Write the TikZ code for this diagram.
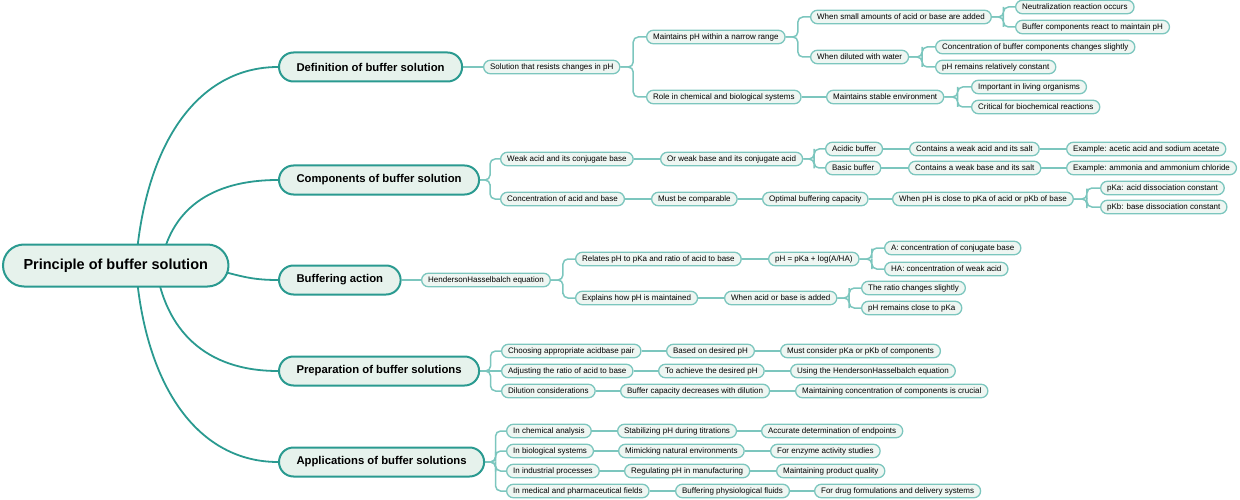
\documentclass[tikz,border=0pt]{standalone}
\usepackage{fontspec}
\setmainfont{Liberation Sans}
\usetikzlibrary{calc,backgrounds}

\definecolor{tealdark}{HTML}{2A9A90}
\definecolor{teallight}{HTML}{7CC6BE}
\definecolor{mint}{HTML}{E6F2EC}
\definecolor{mintpale}{HTML}{EEF6F2}

\tikzset{
  rootnode/.style={draw=tealdark, line width=2pt, fill=mint, rounded corners=21pt, minimum height=42pt, inner xsep=20.5pt, anchor=west, font=\fontsize{14.5}{16}\selectfont\bfseries},
  topicnode/.style={draw=tealdark, line width=2pt, fill=mint, rounded corners=14.5pt, minimum height=29pt, inner xsep=17.5pt, anchor=west, font=\fontsize{11.3}{13}\selectfont\bfseries},
  leafnode/.style={draw=teallight, line width=1.3pt, fill=mintpale, rounded corners=6.75pt, minimum height=13.5pt, inner xsep=6.5pt, inner ysep=1pt, anchor=west, font=\fontsize{8}{9}\selectfont},
  mainline/.style={draw=tealdark, line width=1.8pt},
  subline/.style={draw=teallight, line width=1.5pt, rounded corners=5pt},
}

\begin{document}
\begin{tikzpicture}[x=1pt, y=-1pt]
\useasboundingbox (0,0) rectangle (1240,500);

% Root and main topics
\node[rootnode] (root) at (2,265.5) {Principle of buffer solution};
\node[topicnode] (def) at (278,67) {Definition of buffer solution};
\node[topicnode] (comp) at (278,180) {Components of buffer solution};
\node[topicnode] (buff) at (278,280) {Buffering action};
\node[topicnode] (prep) at (278,371) {Preparation of buffer solutions};
\node[topicnode] (app) at (278,462) {Applications of buffer solutions};

% Definition
\node[leafnode] (d1) at (483,67) {Solution that resists changes in pH};
\node[leafnode] (d11) at (646,37) {Maintains pH within a narrow range};
\node[leafnode] (d12) at (646,97) {Role in chemical and biological systems};
\node[leafnode] (d111) at (810,17) {When small amounts of acid or base are added};
\node[leafnode] (d112) at (810,57) {When diluted with water};
\node[leafnode] (d121) at (826,97) {Maintains stable environment};
\node[leafnode] (d1111) at (1015,7) {Neutralization reaction occurs};
\node[leafnode] (d1112) at (1015,27) {Buffer components react to maintain pH};
\node[leafnode] (d1121) at (935,47) {Concentration of buffer components changes slightly};
\node[leafnode] (d1122) at (935,67) {pH remains relatively constant};
\node[leafnode] (d1211) at (971,87) {Important in living organisms};
\node[leafnode] (d1212) at (971,107) {Critical for biochemical reactions};

% Components
\node[leafnode] (c1) at (500,159) {Weak acid and its conjugate base};
\node[leafnode] (c2) at (500,199) {Concentration of acid and base};
\node[leafnode] (c11) at (660,159) {Or weak base and its conjugate acid};
\node[leafnode] (c111) at (825,149) {Acidic buffer};
\node[leafnode] (c112) at (825,168) {Basic buffer};
\node[leafnode] (c1111) at (909,149) {Contains a weak acid and its salt};
\node[leafnode] (c1121) at (908,168) {Contains a weak base and its salt};
\node[leafnode] (c11111) at (1066,149) {Example: acetic acid and sodium acetate};
\node[leafnode] (c11211) at (1066,168) {Example: ammonia and ammonium chloride};
\node[leafnode] (c21) at (651,199) {Must be comparable};
\node[leafnode] (c211) at (762,199) {Optimal buffering capacity};
\node[leafnode] (c2111) at (892,199) {When pH is close to pKa of acid or pKb of base};
\node[leafnode] (c21111) at (1100,188) {pKa: acid dissociation constant};
\node[leafnode] (c21112) at (1100,207) {pKb: base dissociation constant};

% Buffering action
\node[leafnode] (b1) at (421,280) {HendersonHasselbalch equation};
\node[leafnode] (b11) at (575,259) {Relates pH to pKa and ratio of acid to base};
\node[leafnode] (b12) at (575,298) {Explains how pH is maintained};
\node[leafnode] (b111) at (768,259) {pH = pKa + log(A/HA)};
\node[leafnode] (b121) at (724,298) {When acid or base is added};
\node[leafnode] (b1111) at (884,248) {A: concentration of conjugate base};
\node[leafnode] (b1112) at (884,269) {HA: concentration of weak acid};
\node[leafnode] (b1211) at (861,288) {The ratio changes slightly};
\node[leafnode] (b1212) at (861,308) {pH remains close to pKa};

% Preparation
\node[leafnode] (p1) at (501,351) {Choosing appropriate acidbase pair};
\node[leafnode] (p2) at (501,371) {Adjusting the ratio of acid to base};
\node[leafnode] (p3) at (501,391) {Dilution considerations};
\node[leafnode] (p11) at (666,351) {Based on desired pH};
\node[leafnode] (p111) at (780,351) {Must consider pKa or pKb of components};
\node[leafnode] (p21) at (658,371) {To achieve the desired pH};
\node[leafnode] (p211) at (790,371) {Using the HendersonHasselbalch equation};
\node[leafnode] (p31) at (620,391) {Buffer capacity decreases with dilution};
\node[leafnode] (p311) at (795,391) {Maintaining concentration of components is crucial};

% Applications
\node[leafnode] (a1) at (506,431) {In chemical analysis};
\node[leafnode] (a2) at (506,451) {In biological systems};
\node[leafnode] (a3) at (506,471) {In industrial processes};
\node[leafnode] (a4) at (506,491) {In medical and pharmaceutical fields};
\node[leafnode] (a11) at (617,431) {Stabilizing pH during titrations};
\node[leafnode] (a111) at (761,431) {Accurate determination of endpoints};
\node[leafnode] (a21) at (618,451) {Mimicking natural environments};
\node[leafnode] (a211) at (770,451) {For enzyme activity studies};
\node[leafnode] (a31) at (624,471) {Regulating pH in manufacturing};
\node[leafnode] (a311) at (776,471) {Maintaining product quality};
\node[leafnode] (a41) at (675,491) {Buffering physiological fluids};
\node[leafnode] (a411) at (814,491) {For drug formulations and delivery systems};

\begin{pgfonlayer}{background}
% Curves from the root
\draw[mainline] ([xshift=20pt]root.center) .. controls (145,140) and (200,67) .. (def.west);
\draw[mainline] ([xshift=45pt]root.center) .. controls (170,210) and (210,180) .. (comp.west);
\draw[mainline] ([xshift=85pt]root.center) .. controls (240,276) and (250,280) .. (buff.west);
\draw[mainline] ([xshift=40pt]root.center) .. controls (165,330) and (205,371) .. (prep.west);
\draw[mainline] ([xshift=20pt]root.center) .. controls (145,390) and (200,462) .. (app.west);

% Branching connectors
\foreach \a/\b in {d1/d11, d1/d12, d11/d111, d11/d112,
  d111/d1111, d111/d1112, d112/d1121, d112/d1122, d121/d1211, d121/d1212,
  comp/c1, comp/c2, c11/c111, c11/c112, c2111/c21111, c2111/c21112,
  b1/b11, b1/b12, b111/b1111, b111/b1112, b121/b1211, b121/b1212,
  prep/p1, prep/p3, app/a1, app/a2, app/a3, app/a4}
  \draw[subline] (\a.east) -| ($(\a.east)!.5!(\b.west)$) |- (\b.west);

% Straight connectors
\foreach \a/\b in {def/d1, d12/d121, c1/c11, c111/c1111, c112/c1121,
  c1111/c11111, c1121/c11211, c2/c21, c21/c211, c211/c2111,
  buff/b1, b11/b111, b12/b121, prep/p2, p1/p11, p11/p111, p2/p21, p21/p211,
  p3/p31, p31/p311, a1/a11, a11/a111, a2/a21, a21/a211,
  a3/a31, a31/a311, a4/a41, a41/a411}
  \draw[subline] (\a.east) -- (\b.west);
\end{pgfonlayer}
\end{tikzpicture}
\end{document}
